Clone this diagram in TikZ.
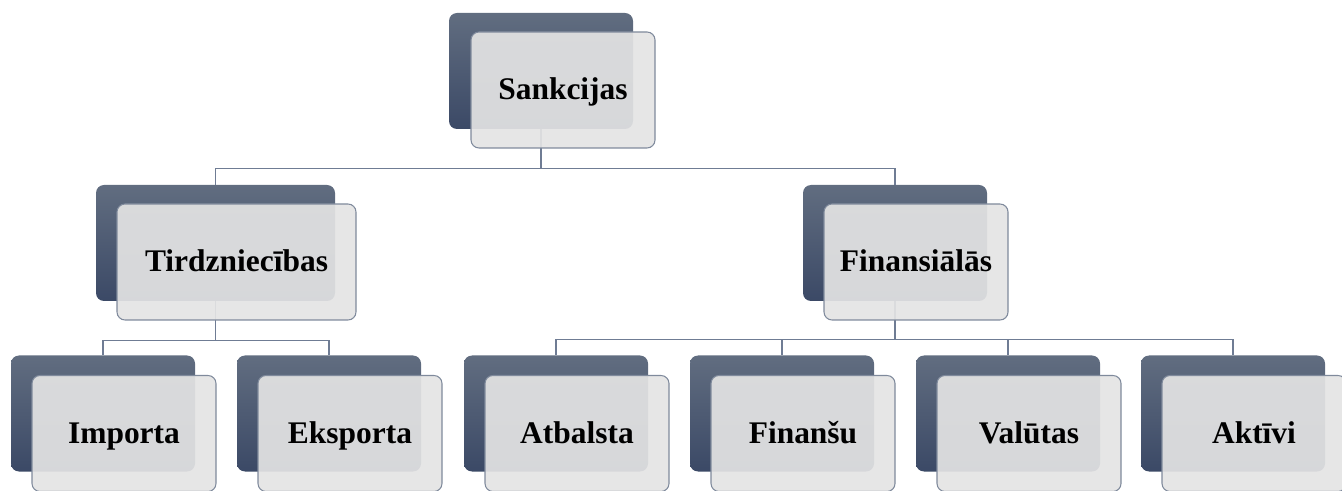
\documentclass[tikz,border=0pt]{standalone}
\usepackage{fontspec}
\setmainfont{Liberation Serif}
\usetikzlibrary{calc}
\definecolor{backtop}{HTML}{616D80}
\definecolor{backbot}{HTML}{3B4966}
\definecolor{frontfill}{HTML}{E4E4E4}
\definecolor{frontline}{HTML}{7F8A9C}
\definecolor{connline}{HTML}{6F7C94}
\tikzset{
  backbox/.style={rectangle, rounded corners=6pt, top color=backtop, bottom color=backbot,
    draw=none, inner sep=0pt, minimum width=#1*0.75pt, minimum height=116*0.75pt},
  backbox/.default=184,
  frontbox/.style={rectangle, rounded corners=6pt, fill=frontfill, fill opacity=0.92,
    text opacity=1, draw=frontline, line width=0.8pt, inner sep=0pt,
    minimum width=#1*0.75pt, minimum height=116*0.75pt,
    font=\fontsize{23.6}{28}\selectfont\bfseries, text height=15pt, text depth=0pt},
  frontbox/.default=184,
  conn/.style={draw=connline, line width=0.8pt}
}
\begin{document}
\begin{tikzpicture}[x=0.75pt, y=-0.75pt]
\useasboundingbox (0,0) rectangle (1342,491);
\clip (0,0) rectangle (1342,491);
% back boxes
\node[backbox] (sb) at (541,71) {};
\node[backbox=239] (tb) at (215.5,243) {};
\node[backbox] (fb) at (895,243) {};
\node[backbox] (ib) at (103,413.5) {};
\node[backbox] (eb) at (329,413.5) {};
\node[backbox] (ab) at (556,413.5) {};
\node[backbox] (nb) at (782,413.5) {};
\node[backbox] (vb) at (1008,413.5) {};
\node[backbox] (kb) at (1233,413.5) {};
% connectors
\draw[conn] (sb.south) -- ++(0,39) -| (tb.north);
\draw[conn] (sb.south) -- ++(0,39) -| (fb.north);
\draw[conn] (tb.south) -- ++(0,39) -| (ib.north);
\draw[conn] (tb.south) -- ++(0,39) -| (eb.north);
\draw[conn] (fb.south) -- ++(0,38) -| (ab.north);
\draw[conn] (fb.south) -- ++(0,38) -| (nb.north);
\draw[conn] (fb.south) -- ++(0,38) -| (vb.north);
\draw[conn] (fb.south) -- ++(0,38) -| (kb.north);
% front boxes
\node[frontbox] (s) at ($(sb)+(22,19)$) {Sankcijas};
\node[frontbox=239] (t) at ($(tb)+(21,19)$) {Tirdzniecības};
\node[frontbox] (f) at ($(fb)+(21,19)$) {Finansiālās};
\node[frontbox] (i) at ($(ib)+(21,20)$) {Importa};
\node[frontbox] (e) at ($(eb)+(21,20)$) {Eksporta};
\node[frontbox] (a) at ($(ab)+(21,20)$) {Atbalsta};
\node[frontbox] (n) at ($(nb)+(21,20)$) {Finanšu};
\node[frontbox] (v) at ($(vb)+(21,20)$) {Valūtas};
\node[frontbox] (k) at ($(kb)+(21,20)$) {Aktīvi};
\end{tikzpicture}
\end{document}
